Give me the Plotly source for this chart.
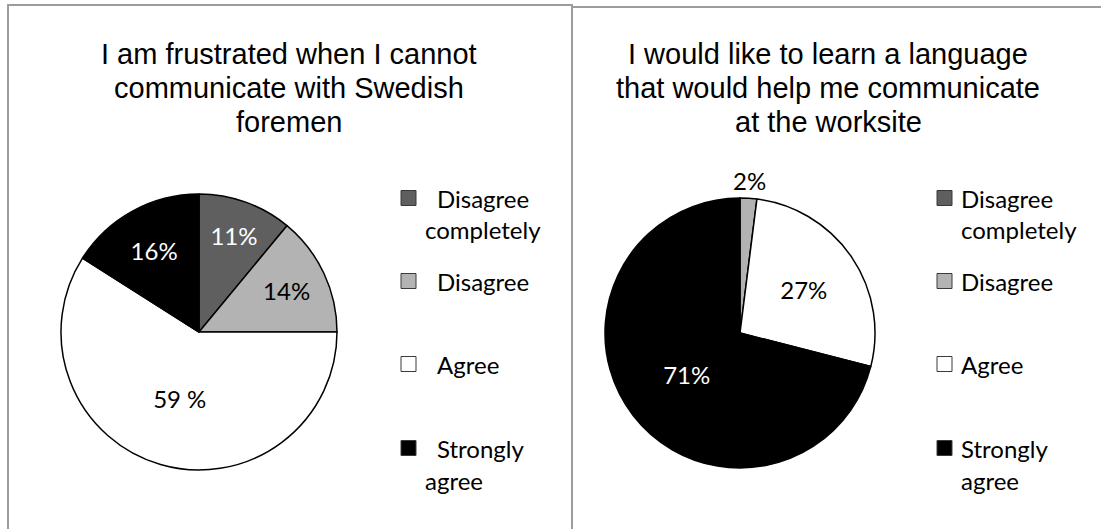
import math
import plotly.graph_objects as go

# --- data -------------------------------------------------------------
categories = ["Disagree completely", "Disagree", "Agree", "Strongly agree"]
frustrated_pct = [11, 14, 59, 16]
learn_pct = [0, 2, 27, 71]
frustrated_suffix = ["%", "%", " %", "%"]
learn_suffix = ["%", "%", "%", "%"]
frustrated_title = ["I am frustrated when I cannot", "communicate with Swedish", "foremen"]
learn_title = ["I would like to learn a language", "that would help me communicate", "at the worksite"]

slice_colors = ["#5f5f5f", "#b3b3b3", "#ffffff", "#000000"]
label_colors = ["white", "black", "black", "white"]

# --- canvas helpers (pixel -> paper) -----------------------------------
W, H = 1101, 529


def px(x):
    return x / W


def py(y):
    return 1 - y / H


LABEL_FONT = "Lato, 'Open Sans', sans-serif"
TITLE_FONT = "'Liberation Sans', Arial, sans-serif"

# pie geometry in pixels: (centre x, centre y, radius)
pies = [
    dict(values=frustrated_pct, suffix=frustrated_suffix, title=frustrated_title,
         cx=199, cy=332, r=138, title_x=289, legend_x=401, text_x=(435, 423)),
    dict(values=learn_pct, suffix=learn_suffix, title=learn_title,
         cx=740, cy=333, r=135, title_x=828, legend_x=937, text_x=(959, 959)),
]

fig = go.Figure()
annotations = []
shapes = []

# panel frames
shapes.append(dict(type="rect", xref="paper", yref="paper",
                   x0=px(8), x1=px(572), y0=py(560), y1=py(5),
                   line=dict(color="#9c9c9c", width=2), fillcolor="rgba(0,0,0,0)"))
shapes.append(dict(type="rect", xref="paper", yref="paper",
                   x0=px(572), x1=px(1130), y0=py(560), y1=py(7),
                   line=dict(color="#9c9c9c", width=2), fillcolor="rgba(0,0,0,0)"))

legend_rows = [198, 281, 364, 448]
line_gap = 32

for k, p in enumerate(pies):
    vals = p["values"]
    texts = [f"{v}{s}" for v, s in zip(vals, p["suffix"])]
    # slices too thin for an inside label get their label outside the rim
    small = [v / sum(vals) < 0.05 for v in vals]
    positions = ["none" if s else "inside" for s in small]

    fig.add_trace(go.Pie(
        labels=categories,
        values=vals,
        sort=False,
        direction="clockwise",
        rotation=0,
        marker=dict(colors=slice_colors, line=dict(color="black", width=1.5)),
        text=texts,
        textinfo="text",
        textposition=positions,
        insidetextorientation="horizontal",
        textfont=dict(family=LABEL_FONT, size=24, color=label_colors),
        domain=dict(x=[px(p["cx"] - p["r"]), px(p["cx"] + p["r"])],
                    y=[py(p["cy"] + p["r"]), py(p["cy"] - p["r"])]),
        showlegend=False,
        hoverinfo="label+value",
    ))

    # outside labels for thin slices, placed on the slice's mid angle
    total = sum(vals)
    start = 0.0
    for v, t, s in zip(vals, texts, small):
        if s and v > 0:
            mid = math.radians((start + v / 2) / total * 360)
            rr = p["r"] * 1.13
            annotations.append(dict(
                x=px(p["cx"] + rr * math.sin(mid)), y=py(p["cy"] - rr * math.cos(mid)),
                xref="paper", yref="paper", text=t, showarrow=False,
                font=dict(family=LABEL_FONT, size=24, color="black"),
                xanchor="center", yanchor="middle"))
        start += v

    # title lines
    for i, line in enumerate(p["title"]):
        annotations.append(dict(
            x=px(p["title_x"]), y=py(54 + i * 34), xref="paper", yref="paper",
            text=line, showarrow=False,
            font=dict(family=TITLE_FONT, size=29, color="black"),
            xanchor="center", yanchor="middle"))

    # legend: square swatch + wrapped category name
    for cat, col, row in zip(categories, slice_colors, legend_rows):
        shapes.append(dict(type="rect", xref="paper", yref="paper",
                           x0=px(p["legend_x"]), x1=px(p["legend_x"] + 15),
                           y0=py(row + 7.5), y1=py(row - 7.5),
                           fillcolor=col, line=dict(color="#3a3a3a", width=1)))
        words = cat.split(" ")
        for j, w in enumerate(words):
            annotations.append(dict(
                x=px(p["text_x"][0 if j == 0 else 1]), y=py(row + j * line_gap),
                xref="paper", yref="paper", text=w, showarrow=False,
                font=dict(family=LABEL_FONT, size=24, color="black"),
                xanchor="left", yanchor="middle"))

fig.update_layout(
    width=W, height=H,
    margin=dict(l=0, r=0, t=0, b=0),
    paper_bgcolor="white",
    plot_bgcolor="white",
    showlegend=False,
    annotations=annotations,
    shapes=shapes,
)

fig.write_html("out.html")
